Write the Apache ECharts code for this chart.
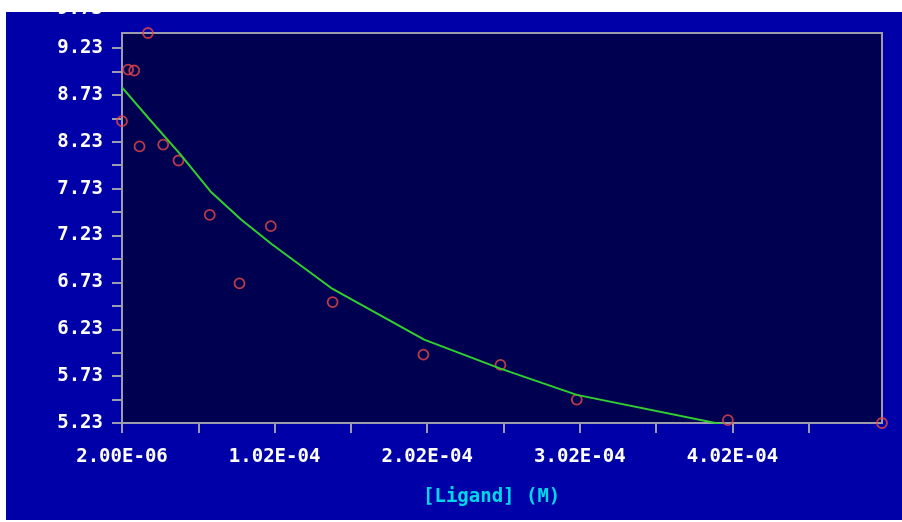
<!DOCTYPE html>
<html>
<head>
<meta charset="utf-8">
<script src="https://cdn.jsdelivr.net/npm/echarts@6/dist/echarts.min.js"></script>
<style>
  html, body { margin: 0; padding: 0; background: #ffffff; width: 902px; height: 522px; overflow: hidden; }
  #chart { position: absolute; left: 6px; top: 12px; width: 896px; height: 508px; }
</style>
</head>
<body>
<div id="chart"></div>
<script>
// ---- data ----
const pointX = [2e-6, 6e-6, 1e-5, 1.35e-5, 1.9e-5, 2.9e-5, 3.9e-5, 5.95e-5, 7.9e-5, 9.95e-5, 1.4e-4, 1.995e-4, 2.5e-4, 3.0e-4, 3.99e-4, 5.0e-4];
const pointY = [8.45, 9.00, 8.99, 8.18, 9.39, 8.20, 8.03, 7.45, 6.72, 7.33, 6.52, 5.96, 5.85, 5.48, 5.26, 5.23];

const fitX = [2e-6, 2e-5, 4e-5, 6e-5, 8e-5, 1e-4, 1.4e-4, 2e-4, 2.5e-4, 3e-4, 4e-4];
const fitY = [8.81, 8.47, 8.10, 7.70, 7.40, 7.14, 6.66, 6.12, 5.81, 5.53, 5.20];

const xTickValues = [2e-6, 5.2e-5, 1.02e-4, 1.52e-4, 2.02e-4, 2.52e-4, 3.02e-4, 3.52e-4, 4.02e-4, 4.52e-4];
const xLabelValues = [2e-6, 1.02e-4, 2.02e-4, 3.02e-4, 4.02e-4];
const xTickLabels = ['2.00E-06', '1.02E-04', '2.02E-04', '3.02E-04', '4.02E-04'];

const yTickValues = [5.23, 5.48, 5.73, 5.98, 6.23, 6.48, 6.73, 6.98, 7.23, 7.48, 7.73, 7.98, 8.23, 8.48, 8.73, 8.98, 9.23];
const yLabelValues = [5.23, 5.73, 6.23, 6.73, 7.23, 7.73, 8.23, 8.73, 9.23];
const yTickLabels = ['5.23', '5.73', '6.23', '6.73', '7.23', '7.73', '8.23', '8.73', '9.23'];

const xMin = 2e-6, xMax = 5e-4, yMin = 5.23, yMax = 9.39;
const xTitle = '[Ligand] (M)';
const cutLabel = '9.73';

// ---- chart ----
const FONT = '"DejaVu Sans Mono", "Liberation Mono", monospace';
const AXIS = '#9c9cac';
function lookup(vals, labels, v) {
  for (let i = 0; i < vals.length; i++) if (Math.abs(vals[i] - v) < Math.abs(vals[i]) * 1e-6 + 1e-12) return labels[i];
  return '';
}

const chart = echarts.init(document.getElementById('chart'), null, { renderer: 'canvas' });
chart.setOption({
  backgroundColor: '#0000a8',
  animation: false,
  grid: {
    left: 116, top: 21, width: 760, height: 390,
    show: true, backgroundColor: '#000050', borderColor: AXIS, borderWidth: 2,
    containLabel: false, outerBoundsMode: 'none'
  },
  xAxis: {
    type: 'value', min: xMin, max: xMax,
    splitLine: { show: false },
    axisLine: { show: true, lineStyle: { color: AXIS, width: 2 } },
    axisTick: { show: true, length: 10, inside: false, lineStyle: { color: AXIS, width: 2 }, customValues: xTickValues },
    axisLabel: {
      show: true, customValues: xLabelValues, margin: 25,
      color: '#ffffff', fontFamily: FONT, fontWeight: 'bold', fontSize: 19,
      formatter: v => lookup(xLabelValues, xTickLabels, v)
    }
  },
  yAxis: {
    type: 'value', min: yMin, max: yMax,
    splitLine: { show: false },
    axisLine: { show: true, lineStyle: { color: AXIS, width: 2 } },
    axisTick: { show: true, length: 10, inside: false, lineStyle: { color: AXIS, width: 2 }, customValues: yTickValues },
    axisLabel: {
      show: true, customValues: yLabelValues, margin: 19,
      color: '#ffffff', fontFamily: FONT, fontWeight: 'bold', fontSize: 19,
      formatter: v => lookup(yLabelValues, yTickLabels, v)
    }
  },
  graphic: [
    {
      type: 'text', left: 417, top: 476, z: 10,
      style: { text: xTitle, fill: '#00d8e8', font: 'bold 19px ' + FONT }
    },
    {
      type: 'text', left: 51, top: -12, z: 10,
      style: { text: cutLabel, fill: '#ffffff', font: 'bold 19px ' + FONT }
    }
  ],
  series: [
    {
      type: 'scatter',
      data: pointX.map((x, i) => [x, pointY[i]]),
      symbol: 'circle', symbolSize: 10,
      itemStyle: { color: 'transparent', borderColor: '#e84848', borderWidth: 1.8 },
      z: 3
    },
    {
      type: 'line',
      data: fitX.map((x, i) => [x, fitY[i]]),
      showSymbol: false, symbol: 'none', smooth: false, clip: true,
      lineStyle: { color: '#30d030', width: 2 },
      z: 4
    }
  ]
});
</script>
</body>
</html>
